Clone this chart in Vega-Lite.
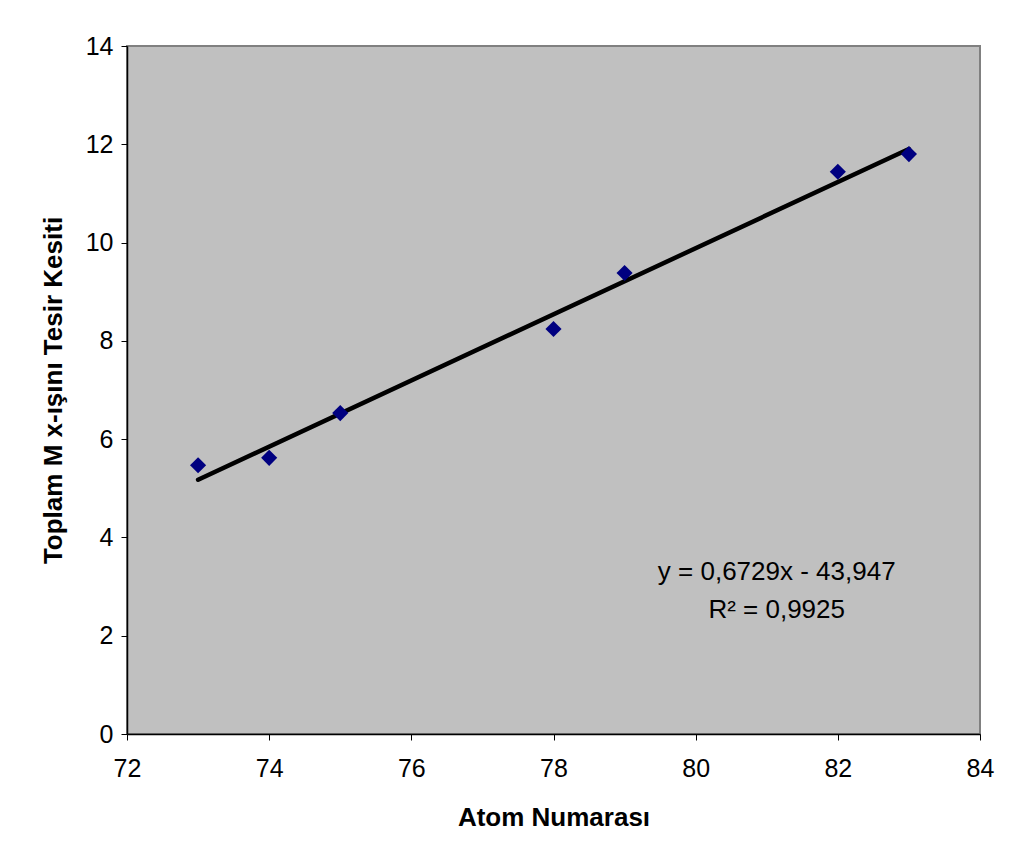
{
  "$schema": "https://vega.github.io/schema/vega-lite/v6.json",
  "width": 853,
  "height": 688,
  "autosize": "none",
  "padding": {"left": 127, "top": 46, "right": 29, "bottom": 125},
  "background": "white",
  "config": {
    "font": "Liberation Sans",
    "view": {"fill": "#C0C0C0", "stroke": "#808080", "strokeWidth": 2},
    "axis": {
      "grid": false,
      "labelFlush": false,
      "labelOverlap": false,
      "domainColor": "black",
      "domainWidth": 1.5,
      "tickColor": "black",
      "tickSize": 6,
      "labelFont": "Liberation Sans",
      "labelFontSize": 25,
      "labelColor": "black",
      "titleFont": "Liberation Sans",
      "titleFontSize": 26,
      "titleFontWeight": "bold",
      "titleColor": "black"
    }
  },
  "datasets": {
    "points": [
      {"Z": 73, "sigma": 5.47},
      {"Z": 74, "sigma": 5.62},
      {"Z": 75, "sigma": 6.53},
      {"Z": 78, "sigma": 8.24},
      {"Z": 79, "sigma": 9.38},
      {"Z": 82, "sigma": 11.44},
      {"Z": 83, "sigma": 11.8}
    ],
    "trend": [
      {"Z": 73, "sigma": 5.175},
      {"Z": 83, "sigma": 11.904}
    ],
    "notes": [
      {"Z": 81.14, "sigma": 3.3, "label": "y = 0,6729x - 43,947"},
      {"Z": 81.14, "sigma": 2.52, "label": "R² = 0,9925"}
    ]
  },
  "layer": [
    {
      "data": {"name": "trend"},
      "mark": {"type": "line", "color": "black", "strokeWidth": 4.5, "strokeCap": "round"},
      "encoding": {
        "x": {"field": "Z", "type": "quantitative", "scale": {"domain": [72, 84], "nice": false, "zero": false},
              "axis": {"values": [72, 74, 76, 78, 80, 82, 84], "format": "d", "title": "Atom Numarası", "labelPadding": 16, "titlePadding": 23}},
        "y": {"field": "sigma", "type": "quantitative", "scale": {"domain": [0, 14], "nice": false},
              "axis": {"values": [0, 2, 4, 6, 8, 10, 12, 14], "format": "d", "title": "Toplam M x-ışını Tesir Kesiti", "labelPadding": 8, "titlePadding": 19}}
      }
    },
    {
      "data": {"name": "points"},
      "mark": {"type": "point", "shape": "diamond", "filled": true, "color": "#000080", "size": 260, "opacity": 1},
      "encoding": {
        "x": {"field": "Z", "type": "quantitative"},
        "y": {"field": "sigma", "type": "quantitative"}
      }
    },
    {
      "data": {"name": "notes"},
      "mark": {"type": "text", "fontSize": 26, "color": "black", "align": "center", "baseline": "middle", "font": "Liberation Sans"},
      "encoding": {
        "x": {"field": "Z", "type": "quantitative"},
        "y": {"field": "sigma", "type": "quantitative"},
        "text": {"field": "label"}
      }
    }
  ]
}
